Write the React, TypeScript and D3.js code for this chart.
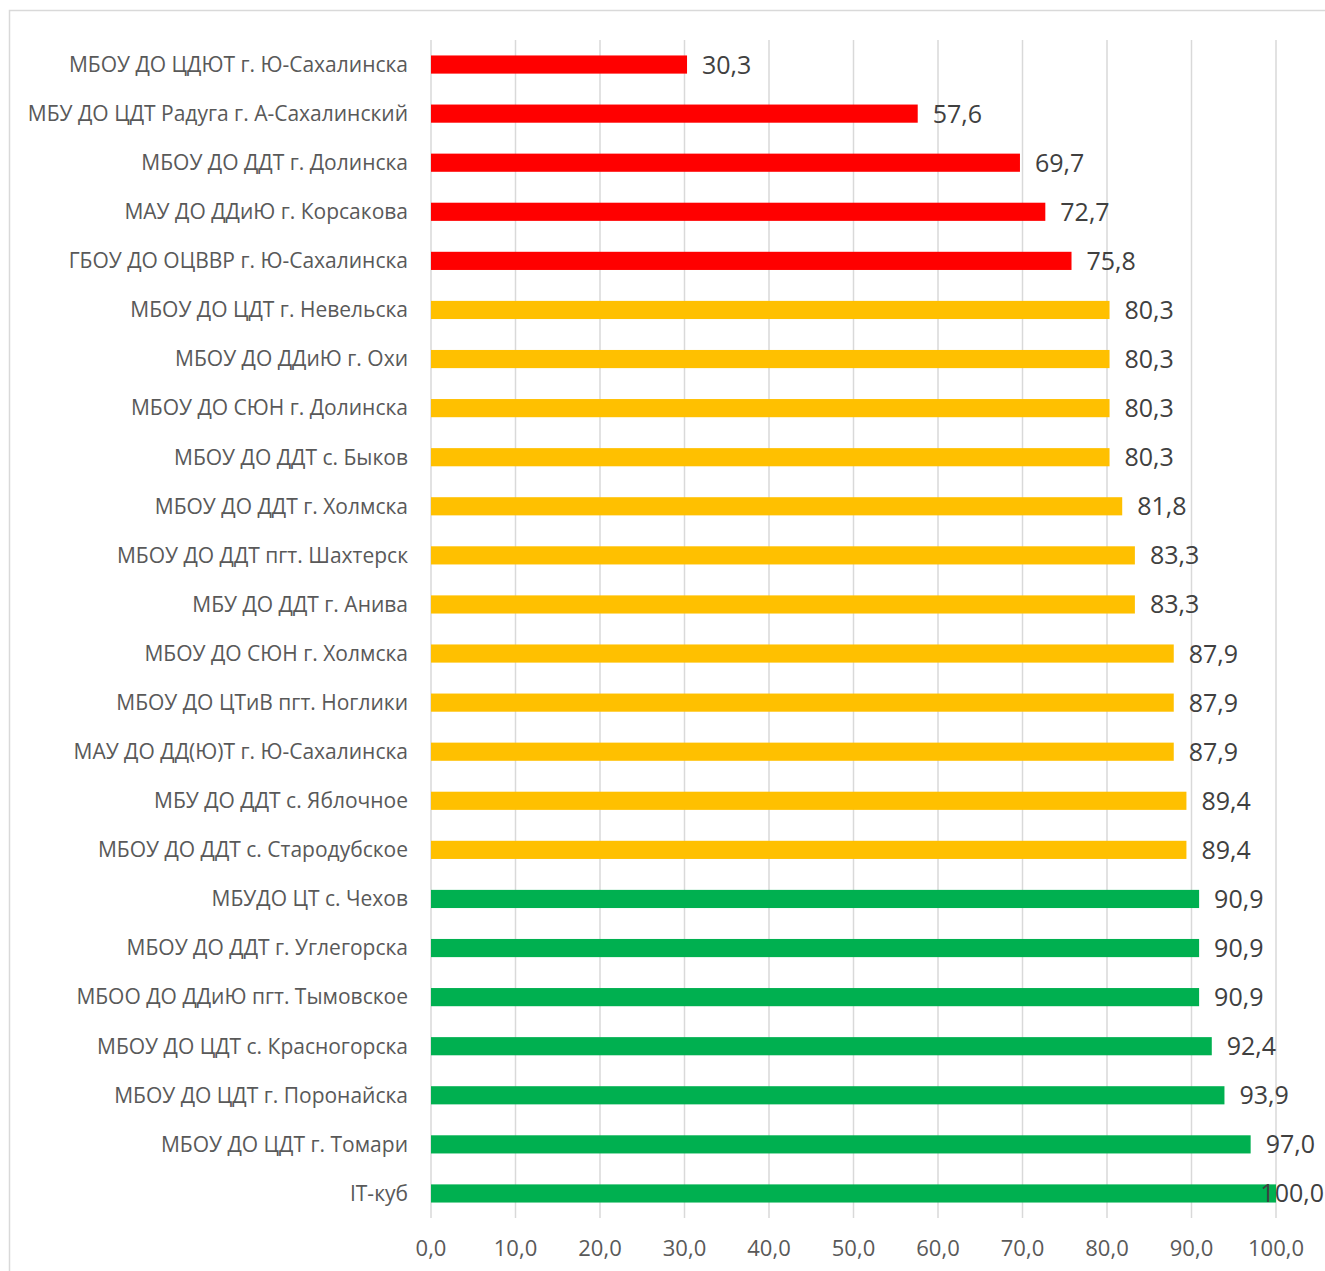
import React, { useEffect, useRef } from "react";
import * as d3 from "d3";

const categories = [
  "МБОУ ДО ЦДЮТ г. Ю-Сахалинска",
  "МБУ ДО ЦДТ Радуга г. А-Сахалинский",
  "МБОУ ДО ДДТ г. Долинска",
  "МАУ ДО ДДиЮ г. Корсакова",
  "ГБОУ ДО ОЦВВР г. Ю-Сахалинска",
  "МБОУ ДО ЦДТ г. Невельска",
  "МБОУ ДО ДДиЮ г. Охи",
  "МБОУ ДО СЮН г. Долинска",
  "МБОУ ДО ДДТ с. Быков",
  "МБОУ ДО ДДТ г. Холмска",
  "МБОУ ДО ДДТ пгт. Шахтерск",
  "МБУ ДО ДДТ г. Анива",
  "МБОУ ДО СЮН г. Холмска",
  "МБОУ ДО ЦТиВ пгт. Ноглики",
  "МАУ ДО ДД(Ю)Т г. Ю-Сахалинска",
  "МБУ ДО ДДТ с. Яблочное",
  "МБОУ ДО ДДТ с. Стародубское",
  "МБУДО ЦТ с. Чехов",
  "МБОУ ДО ДДТ г. Углегорска",
  "МБОО ДО ДДиЮ пгт. Тымовское",
  "МБОУ ДО ЦДТ с. Красногорска",
  "МБОУ ДО ЦДТ г. Поронайска",
  "МБОУ ДО ЦДТ г. Томари",
  "IT-куб",
];

const values = [
  30.3, 57.6, 69.7, 72.7, 75.8, 80.3, 80.3, 80.3, 80.3, 81.8, 83.3, 83.3,
  87.9, 87.9, 87.9, 89.4, 89.4, 90.9, 90.9, 90.9, 92.4, 93.9, 97.0, 100.0,
];

const xTicks = [0, 10, 20, 30, 40, 50, 60, 70, 80, 90, 100];

const WIDTH = 1325;
const HEIGHT = 1271;
const FONT = "'Open Sans', sans-serif";

const barColor = (v: number) =>
  v < 80 ? "#ff0000" : v < 90 ? "#ffc000" : "#00b050";

const fmt = (v: number) => v.toFixed(1).replace(".", ",");

const App: React.FC = () => {
  const svgRef = useRef<SVGSVGElement>(null);

  useEffect(() => {
    if (!svgRef.current) return;
    const root = d3.select(svgRef.current);
    root.selectAll("*").remove();

    const plot = { left: 431, right: 1276, top: 40, bottom: 1218 };

    const x = d3.scaleLinear().domain([0, 100]).range([plot.left, plot.right]);
    const y = d3
      .scaleBand<string>()
      .domain(categories)
      .range([plot.top, plot.bottom])
      .padding(0);
    const barH = y.bandwidth() * 0.37;

    // chart frame
    root
      .append("rect")
      .attr("x", 9.5)
      .attr("y", 10.5)
      .attr("width", 1400)
      .attr("height", 1400)
      .style("fill", "none")
      .style("stroke", "#d9d9d9")
      .style("stroke-width", 1.5);

    // grid lines
    root
      .selectAll(".grid")
      .data(xTicks)
      .enter()
      .append("line")
      .attr("x1", (d) => x(d))
      .attr("x2", (d) => x(d))
      .attr("y1", plot.top)
      .attr("y2", plot.bottom)
      .style("stroke", "#d9d9d9")
      .style("stroke-width", 1.5);

    // tick labels
    root
      .selectAll(".tick")
      .data(xTicks)
      .enter()
      .append("text")
      .attr("x", (d) => x(d))
      .attr("y", 1256)
      .attr("text-anchor", "middle")
      .style("font-family", FONT)
      .style("font-size", "22px")
      .style("fill", "#595959")
      .text((d) => fmt(d));

    // category labels
    root
      .selectAll(".cat")
      .data(categories)
      .enter()
      .append("text")
      .attr("x", 408)
      .attr("y", (d) => y(d)! + y.bandwidth() / 2)
      .attr("dy", "0.35em")
      .attr("text-anchor", "end")
      .style("font-family", FONT)
      .style("font-size", "21px")
      .style("fill", "#595959")
      .text((d) => d);

    // bars
    root
      .selectAll(".bar")
      .data(values)
      .enter()
      .append("rect")
      .attr("x", x(0))
      .attr("y", (_, i) => y(categories[i])! + (y.bandwidth() - barH) / 2)
      .attr("width", (d) => x(d) - x(0))
      .attr("height", barH)
      .style("fill", (d) => barColor(d));

    // value labels
    const labels = root
      .selectAll(".val")
      .data(values)
      .enter()
      .append("text")
      .attr("x", (d) => x(d) + 15)
      .attr("y", (_, i) => y(categories[i])! + y.bandwidth() / 2)
      .attr("dy", "0.36em")
      .style("font-family", FONT)
      .style("font-size", "25px")
      .style("fill", "#404040")
      .text((d) => fmt(d));

    // keep labels inside the chart area
    labels.each(function () {
      const el = this as SVGTextElement;
      const w = el.getComputedTextLength();
      const lx = +el.getAttribute("x")!;
      if (lx + w > WIDTH - 1) el.setAttribute("x", String(WIDTH - 1 - w));
    });
  }, []);

  return (
    <svg
      ref={svgRef}
      width={WIDTH}
      height={HEIGHT}
      style={{ position: "absolute", left: 0, top: 0, background: "#fff" }}
    />
  );
};

export default App;
